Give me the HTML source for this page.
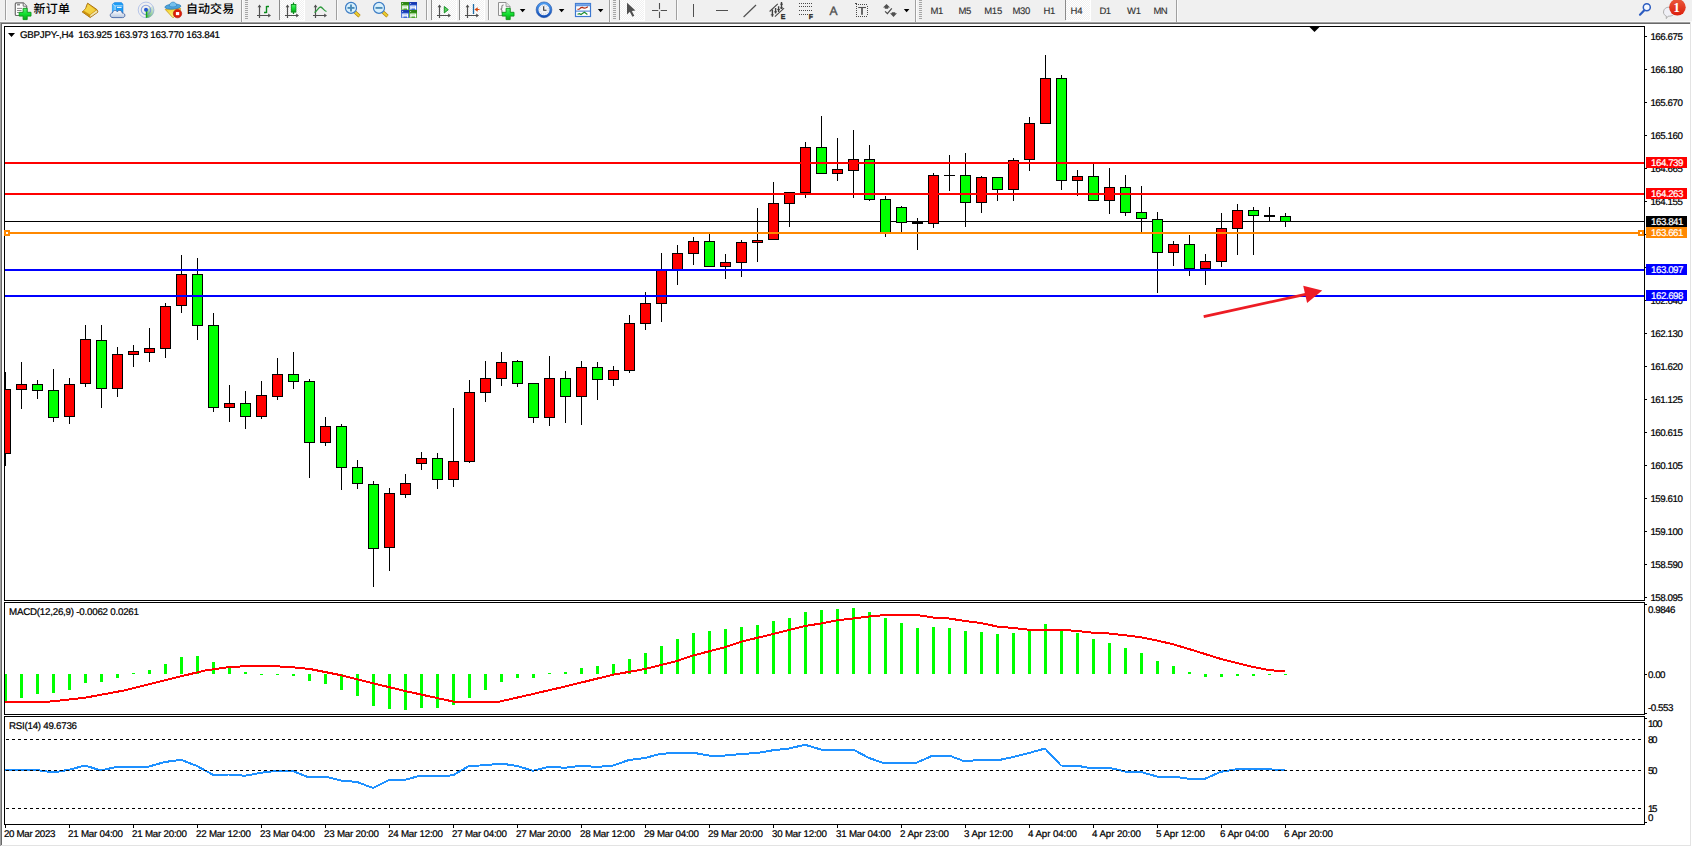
<!DOCTYPE html>
<html lang="zh-CN"><head><meta charset="utf-8"><title>GBPJPY-,H4</title>
<style>
html,body{margin:0;padding:0;background:#fff;overflow:hidden}
svg{display:block;font-family:"Liberation Sans", "Noto Sans CJK SC", sans-serif;text-rendering:geometricPrecision}
text{stroke-width:0.22px}
.cr{shape-rendering:crispEdges}
</style></head><body>
<svg width="1692" height="847" viewBox="0 0 1692 847">
<defs>
<linearGradient id="gGreen" x1="0" y1="0" x2="0" y2="1"><stop offset="0" stop-color="#58F070"/><stop offset="0.5" stop-color="#10E030"/><stop offset="1" stop-color="#0CA418"/></linearGradient>
<linearGradient id="gGold" x1="0" y1="0" x2="0.6" y2="1"><stop offset="0" stop-color="#F4D040"/><stop offset="0.6" stop-color="#E4B018"/><stop offset="1" stop-color="#C08408"/></linearGradient>
<linearGradient id="gBlue" x1="0" y1="0" x2="0" y2="1"><stop offset="0" stop-color="#4C9CF0"/><stop offset="1" stop-color="#1450B8"/></linearGradient>
<linearGradient id="gRed" x1="0" y1="0" x2="0" y2="1"><stop offset="0" stop-color="#EA5A3C"/><stop offset="1" stop-color="#DC1E0C"/></linearGradient>
<linearGradient id="gGlass" x1="0" y1="0" x2="0" y2="1"><stop offset="0" stop-color="#E8F4FF"/><stop offset="1" stop-color="#A8CCF0"/></linearGradient>
<linearGradient id="gCloud" x1="0" y1="0" x2="0" y2="1"><stop offset="0" stop-color="#ffffff"/><stop offset="1" stop-color="#b8c8e0"/></linearGradient>
<linearGradient id="gSweep" x1="0" y1="1" x2="0.6" y2="0"><stop offset="0" stop-color="#2cac2c" stop-opacity="0.95"/><stop offset="1" stop-color="#8cc8a0" stop-opacity="0.25"/></linearGradient>
<linearGradient id="gFace" x1="0" y1="0" x2="0.3" y2="1"><stop offset="0" stop-color="#f4d020"/><stop offset="1" stop-color="#fcf48c"/></linearGradient>
<pattern id="chk" width="2" height="2" patternUnits="userSpaceOnUse"><rect width="2" height="2" fill="#f0f0f0"/><rect width="1" height="1" fill="#fff"/><rect x="1" y="1" width="1" height="1" fill="#fff"/></pattern>
</defs>
<rect width="1692" height="847" fill="#fff"/>
<g id="toolbar">
<rect x="0" y="0" width="1692" height="21" fill="#f0f0f0" class="cr"/>
<rect x="0" y="21" width="1692" height="1" fill="#f8f8f8" class="cr"/>
</g>
<g class="cr">
<rect x="0" y="22" width="1690" height="1" fill="#a0a0a0"/>
<rect x="1" y="23" width="1689" height="1" fill="#696969"/>
<rect x="0" y="22" width="1" height="824" fill="#a0a0a0"/>
<rect x="1" y="23" width="1" height="822" fill="#696969"/>
<rect x="1690" y="22" width="1" height="824" fill="#e3e3e3"/>
<rect x="1" y="845" width="1690" height="1" fill="#e3e3e3"/>
</g>
<g class="cr" fill="none" stroke="#000" stroke-width="1">
<path d="M4.5 26.5H1644.5V600.5H4.5Z"/>
<path d="M4.5 602.5H1644.5V714.5H4.5Z"/>
<path d="M4.5 716.5H1644.5V824.5H4.5Z"/>
</g>
<rect x="5" y="221" width="1639" height="1" fill="#000" class="cr"/>
<g id="candles" class="cr">
<rect x="5" y="372" width="1" height="94" fill="#000"/>
<rect x="5" y="389" width="6" height="65" fill="#000"/>
<rect x="5" y="390" width="5" height="63" fill="#f00"/>
<rect x="21" y="362" width="1" height="47" fill="#000"/>
<rect x="16" y="384" width="11" height="6" fill="#000"/>
<rect x="17" y="385" width="9" height="4" fill="#f00"/>
<rect x="37" y="380" width="1" height="19" fill="#000"/>
<rect x="32" y="384" width="11" height="7" fill="#000"/>
<rect x="33" y="385" width="9" height="5" fill="#0f0"/>
<rect x="53" y="369" width="1" height="53" fill="#000"/>
<rect x="48" y="390" width="11" height="28" fill="#000"/>
<rect x="49" y="391" width="9" height="26" fill="#0f0"/>
<rect x="69" y="378" width="1" height="46" fill="#000"/>
<rect x="64" y="384" width="11" height="33" fill="#000"/>
<rect x="65" y="385" width="9" height="31" fill="#f00"/>
<rect x="85" y="325" width="1" height="62" fill="#000"/>
<rect x="80" y="339" width="11" height="45" fill="#000"/>
<rect x="81" y="340" width="9" height="43" fill="#f00"/>
<rect x="101" y="325" width="1" height="83" fill="#000"/>
<rect x="96" y="340" width="11" height="49" fill="#000"/>
<rect x="97" y="341" width="9" height="47" fill="#0f0"/>
<rect x="117" y="347" width="1" height="50" fill="#000"/>
<rect x="112" y="354" width="11" height="35" fill="#000"/>
<rect x="113" y="355" width="9" height="33" fill="#f00"/>
<rect x="133" y="345" width="1" height="22" fill="#000"/>
<rect x="128" y="351" width="11" height="4" fill="#000"/>
<rect x="129" y="352" width="9" height="2" fill="#f00"/>
<rect x="149" y="328" width="1" height="34" fill="#000"/>
<rect x="144" y="348" width="11" height="5" fill="#000"/>
<rect x="145" y="349" width="9" height="3" fill="#f00"/>
<rect x="165" y="303" width="1" height="55" fill="#000"/>
<rect x="160" y="306" width="11" height="43" fill="#000"/>
<rect x="161" y="307" width="9" height="41" fill="#f00"/>
<rect x="181" y="255" width="1" height="58" fill="#000"/>
<rect x="176" y="274" width="11" height="32" fill="#000"/>
<rect x="177" y="275" width="9" height="30" fill="#f00"/>
<rect x="197" y="258" width="1" height="82" fill="#000"/>
<rect x="192" y="274" width="11" height="52" fill="#000"/>
<rect x="193" y="275" width="9" height="50" fill="#0f0"/>
<rect x="213" y="313" width="1" height="99" fill="#000"/>
<rect x="208" y="325" width="11" height="83" fill="#000"/>
<rect x="209" y="326" width="9" height="81" fill="#0f0"/>
<rect x="229" y="385" width="1" height="37" fill="#000"/>
<rect x="224" y="403" width="11" height="5" fill="#000"/>
<rect x="225" y="404" width="9" height="3" fill="#f00"/>
<rect x="245" y="391" width="1" height="38" fill="#000"/>
<rect x="240" y="403" width="11" height="14" fill="#000"/>
<rect x="241" y="404" width="9" height="12" fill="#0f0"/>
<rect x="261" y="381" width="1" height="38" fill="#000"/>
<rect x="256" y="395" width="11" height="22" fill="#000"/>
<rect x="257" y="396" width="9" height="20" fill="#f00"/>
<rect x="277" y="358" width="1" height="42" fill="#000"/>
<rect x="272" y="374" width="11" height="23" fill="#000"/>
<rect x="273" y="375" width="9" height="21" fill="#f00"/>
<rect x="293" y="352" width="1" height="37" fill="#000"/>
<rect x="288" y="374" width="11" height="8" fill="#000"/>
<rect x="289" y="375" width="9" height="6" fill="#0f0"/>
<rect x="309" y="379" width="1" height="99" fill="#000"/>
<rect x="304" y="381" width="11" height="62" fill="#000"/>
<rect x="305" y="382" width="9" height="60" fill="#0f0"/>
<rect x="325" y="417" width="1" height="29" fill="#000"/>
<rect x="320" y="426" width="11" height="17" fill="#000"/>
<rect x="321" y="427" width="9" height="15" fill="#f00"/>
<rect x="341" y="424" width="1" height="66" fill="#000"/>
<rect x="336" y="426" width="11" height="42" fill="#000"/>
<rect x="337" y="427" width="9" height="40" fill="#0f0"/>
<rect x="357" y="460" width="1" height="29" fill="#000"/>
<rect x="352" y="467" width="11" height="17" fill="#000"/>
<rect x="353" y="468" width="9" height="15" fill="#0f0"/>
<rect x="373" y="481" width="1" height="106" fill="#000"/>
<rect x="368" y="484" width="11" height="65" fill="#000"/>
<rect x="369" y="485" width="9" height="63" fill="#0f0"/>
<rect x="389" y="488" width="1" height="83" fill="#000"/>
<rect x="384" y="493" width="11" height="55" fill="#000"/>
<rect x="385" y="494" width="9" height="53" fill="#f00"/>
<rect x="405" y="474" width="1" height="24" fill="#000"/>
<rect x="400" y="483" width="11" height="12" fill="#000"/>
<rect x="401" y="484" width="9" height="10" fill="#f00"/>
<rect x="421" y="452" width="1" height="18" fill="#000"/>
<rect x="416" y="458" width="11" height="6" fill="#000"/>
<rect x="417" y="459" width="9" height="4" fill="#f00"/>
<rect x="437" y="453" width="1" height="36" fill="#000"/>
<rect x="432" y="458" width="11" height="22" fill="#000"/>
<rect x="433" y="459" width="9" height="20" fill="#0f0"/>
<rect x="453" y="408" width="1" height="79" fill="#000"/>
<rect x="448" y="461" width="11" height="19" fill="#000"/>
<rect x="449" y="462" width="9" height="17" fill="#f00"/>
<rect x="469" y="380" width="1" height="83" fill="#000"/>
<rect x="464" y="392" width="11" height="70" fill="#000"/>
<rect x="465" y="393" width="9" height="68" fill="#f00"/>
<rect x="485" y="361" width="1" height="41" fill="#000"/>
<rect x="480" y="378" width="11" height="15" fill="#000"/>
<rect x="481" y="379" width="9" height="13" fill="#f00"/>
<rect x="501" y="352" width="1" height="34" fill="#000"/>
<rect x="496" y="362" width="11" height="17" fill="#000"/>
<rect x="497" y="363" width="9" height="15" fill="#f00"/>
<rect x="517" y="360" width="1" height="27" fill="#000"/>
<rect x="512" y="361" width="11" height="23" fill="#000"/>
<rect x="513" y="362" width="9" height="21" fill="#0f0"/>
<rect x="533" y="383" width="1" height="40" fill="#000"/>
<rect x="528" y="383" width="11" height="35" fill="#000"/>
<rect x="529" y="384" width="9" height="33" fill="#0f0"/>
<rect x="549" y="356" width="1" height="70" fill="#000"/>
<rect x="544" y="378" width="11" height="40" fill="#000"/>
<rect x="545" y="379" width="9" height="38" fill="#f00"/>
<rect x="565" y="371" width="1" height="52" fill="#000"/>
<rect x="560" y="378" width="11" height="19" fill="#000"/>
<rect x="561" y="379" width="9" height="17" fill="#0f0"/>
<rect x="581" y="361" width="1" height="64" fill="#000"/>
<rect x="576" y="367" width="11" height="30" fill="#000"/>
<rect x="577" y="368" width="9" height="28" fill="#f00"/>
<rect x="597" y="362" width="1" height="38" fill="#000"/>
<rect x="592" y="367" width="11" height="13" fill="#000"/>
<rect x="593" y="368" width="9" height="11" fill="#0f0"/>
<rect x="613" y="366" width="1" height="20" fill="#000"/>
<rect x="608" y="370" width="11" height="10" fill="#000"/>
<rect x="609" y="371" width="9" height="8" fill="#f00"/>
<rect x="629" y="315" width="1" height="58" fill="#000"/>
<rect x="624" y="323" width="11" height="48" fill="#000"/>
<rect x="625" y="324" width="9" height="46" fill="#f00"/>
<rect x="645" y="292" width="1" height="38" fill="#000"/>
<rect x="640" y="303" width="11" height="21" fill="#000"/>
<rect x="641" y="304" width="9" height="19" fill="#f00"/>
<rect x="661" y="253" width="1" height="69" fill="#000"/>
<rect x="656" y="270" width="11" height="34" fill="#000"/>
<rect x="657" y="271" width="9" height="32" fill="#f00"/>
<rect x="677" y="245" width="1" height="40" fill="#000"/>
<rect x="672" y="253" width="11" height="17" fill="#000"/>
<rect x="673" y="254" width="9" height="15" fill="#f00"/>
<rect x="693" y="237" width="1" height="28" fill="#000"/>
<rect x="688" y="241" width="11" height="13" fill="#000"/>
<rect x="689" y="242" width="9" height="11" fill="#f00"/>
<rect x="709" y="234" width="1" height="33" fill="#000"/>
<rect x="704" y="241" width="11" height="26" fill="#000"/>
<rect x="705" y="242" width="9" height="24" fill="#0f0"/>
<rect x="725" y="254" width="1" height="25" fill="#000"/>
<rect x="720" y="262" width="11" height="5" fill="#000"/>
<rect x="721" y="263" width="9" height="3" fill="#f00"/>
<rect x="741" y="240" width="1" height="37" fill="#000"/>
<rect x="736" y="242" width="11" height="21" fill="#000"/>
<rect x="737" y="243" width="9" height="19" fill="#f00"/>
<rect x="757" y="208" width="1" height="54" fill="#000"/>
<rect x="752" y="240" width="11" height="3" fill="#000"/>
<rect x="753" y="241" width="9" height="1" fill="#f00"/>
<rect x="773" y="182" width="1" height="58" fill="#000"/>
<rect x="768" y="203" width="11" height="37" fill="#000"/>
<rect x="769" y="204" width="9" height="35" fill="#f00"/>
<rect x="789" y="192" width="1" height="35" fill="#000"/>
<rect x="784" y="192" width="11" height="12" fill="#000"/>
<rect x="785" y="193" width="9" height="10" fill="#f00"/>
<rect x="805" y="142" width="1" height="56" fill="#000"/>
<rect x="800" y="147" width="11" height="46" fill="#000"/>
<rect x="801" y="148" width="9" height="44" fill="#f00"/>
<rect x="821" y="116" width="1" height="58" fill="#000"/>
<rect x="816" y="147" width="11" height="27" fill="#000"/>
<rect x="817" y="148" width="9" height="25" fill="#0f0"/>
<rect x="837" y="138" width="1" height="43" fill="#000"/>
<rect x="832" y="169" width="11" height="5" fill="#000"/>
<rect x="833" y="170" width="9" height="3" fill="#f00"/>
<rect x="853" y="130" width="1" height="68" fill="#000"/>
<rect x="848" y="159" width="11" height="12" fill="#000"/>
<rect x="849" y="160" width="9" height="10" fill="#f00"/>
<rect x="869" y="145" width="1" height="56" fill="#000"/>
<rect x="864" y="159" width="11" height="41" fill="#000"/>
<rect x="865" y="160" width="9" height="39" fill="#0f0"/>
<rect x="885" y="196" width="1" height="41" fill="#000"/>
<rect x="880" y="199" width="11" height="34" fill="#000"/>
<rect x="881" y="200" width="9" height="32" fill="#0f0"/>
<rect x="901" y="206" width="1" height="26" fill="#000"/>
<rect x="896" y="207" width="11" height="16" fill="#000"/>
<rect x="897" y="208" width="9" height="14" fill="#0f0"/>
<rect x="917" y="218" width="1" height="32" fill="#000"/>
<rect x="912" y="221" width="11" height="3" fill="#000"/>
<rect x="933" y="173" width="1" height="55" fill="#000"/>
<rect x="928" y="175" width="11" height="49" fill="#000"/>
<rect x="929" y="176" width="9" height="47" fill="#f00"/>
<rect x="949" y="155" width="1" height="36" fill="#000"/>
<rect x="944" y="175" width="11" height="1" fill="#000"/>
<rect x="965" y="153" width="1" height="74" fill="#000"/>
<rect x="960" y="175" width="11" height="28" fill="#000"/>
<rect x="961" y="176" width="9" height="26" fill="#0f0"/>
<rect x="981" y="176" width="1" height="37" fill="#000"/>
<rect x="976" y="177" width="11" height="26" fill="#000"/>
<rect x="977" y="178" width="9" height="24" fill="#f00"/>
<rect x="997" y="177" width="1" height="24" fill="#000"/>
<rect x="992" y="177" width="11" height="13" fill="#000"/>
<rect x="993" y="178" width="9" height="11" fill="#0f0"/>
<rect x="1013" y="158" width="1" height="43" fill="#000"/>
<rect x="1008" y="160" width="11" height="30" fill="#000"/>
<rect x="1009" y="161" width="9" height="28" fill="#f00"/>
<rect x="1029" y="117" width="1" height="54" fill="#000"/>
<rect x="1024" y="123" width="11" height="37" fill="#000"/>
<rect x="1025" y="124" width="9" height="35" fill="#f00"/>
<rect x="1045" y="55" width="1" height="69" fill="#000"/>
<rect x="1040" y="78" width="11" height="46" fill="#000"/>
<rect x="1041" y="79" width="9" height="44" fill="#f00"/>
<rect x="1061" y="75" width="1" height="115" fill="#000"/>
<rect x="1056" y="78" width="11" height="103" fill="#000"/>
<rect x="1057" y="79" width="9" height="101" fill="#0f0"/>
<rect x="1077" y="170" width="1" height="26" fill="#000"/>
<rect x="1072" y="176" width="11" height="5" fill="#000"/>
<rect x="1073" y="177" width="9" height="3" fill="#f00"/>
<rect x="1093" y="164" width="1" height="37" fill="#000"/>
<rect x="1088" y="176" width="11" height="25" fill="#000"/>
<rect x="1089" y="177" width="9" height="23" fill="#0f0"/>
<rect x="1109" y="168" width="1" height="46" fill="#000"/>
<rect x="1104" y="187" width="11" height="14" fill="#000"/>
<rect x="1105" y="188" width="9" height="12" fill="#f00"/>
<rect x="1125" y="175" width="1" height="41" fill="#000"/>
<rect x="1120" y="187" width="11" height="26" fill="#000"/>
<rect x="1121" y="188" width="9" height="24" fill="#0f0"/>
<rect x="1141" y="186" width="1" height="46" fill="#000"/>
<rect x="1136" y="212" width="11" height="7" fill="#000"/>
<rect x="1137" y="213" width="9" height="5" fill="#0f0"/>
<rect x="1157" y="212" width="1" height="81" fill="#000"/>
<rect x="1152" y="219" width="11" height="34" fill="#000"/>
<rect x="1153" y="220" width="9" height="32" fill="#0f0"/>
<rect x="1173" y="241" width="1" height="25" fill="#000"/>
<rect x="1168" y="244" width="11" height="9" fill="#000"/>
<rect x="1169" y="245" width="9" height="7" fill="#f00"/>
<rect x="1189" y="235" width="1" height="41" fill="#000"/>
<rect x="1184" y="244" width="11" height="25" fill="#000"/>
<rect x="1185" y="245" width="9" height="23" fill="#0f0"/>
<rect x="1205" y="254" width="1" height="31" fill="#000"/>
<rect x="1200" y="261" width="11" height="8" fill="#000"/>
<rect x="1201" y="262" width="9" height="6" fill="#f00"/>
<rect x="1221" y="213" width="1" height="54" fill="#000"/>
<rect x="1216" y="228" width="11" height="34" fill="#000"/>
<rect x="1217" y="229" width="9" height="32" fill="#f00"/>
<rect x="1237" y="204" width="1" height="51" fill="#000"/>
<rect x="1232" y="210" width="11" height="19" fill="#000"/>
<rect x="1233" y="211" width="9" height="17" fill="#f00"/>
<rect x="1253" y="207" width="1" height="48" fill="#000"/>
<rect x="1248" y="210" width="11" height="6" fill="#000"/>
<rect x="1249" y="211" width="9" height="4" fill="#0f0"/>
<rect x="1269" y="207" width="1" height="14" fill="#000"/>
<rect x="1264" y="215" width="11" height="2" fill="#000"/>
<rect x="1285" y="213" width="1" height="14" fill="#000"/>
<rect x="1280" y="216" width="11" height="6" fill="#000"/>
<rect x="1281" y="217" width="9" height="4" fill="#0f0"/>
</g>
<g id="hlines" class="cr">
<rect x="5" y="162" width="1639" height="2" fill="#f00"/>
<rect x="5" y="193" width="1639" height="2" fill="#f00"/>
<rect x="5" y="232" width="1639" height="2" fill="#ff8800"/>
<rect x="5" y="269" width="1639" height="2" fill="#00f"/>
<rect x="5" y="295" width="1639" height="2" fill="#00f"/>
<rect x="4" y="230" width="6" height="6" fill="#ff8800"/>
<rect x="6" y="232" width="2" height="2" fill="#fff"/>
<rect x="1638" y="230" width="6" height="6" fill="#ff8800"/>
<rect x="1640" y="232" width="2" height="2" fill="#fff"/>
</g>
<path d="M1309.5 27H1319.5L1314.5 32Z" fill="#000"/>
<g id="arrow">
<path d="M1203.7 316.6L1310 293.3" stroke="#ed1c24" stroke-width="2.8" fill="none"/>
<path d="M1303.2 285.8L1322.2 290.6L1307.1 303Z" fill="#ed1c24"/>
</g>
<g id="pscale">
<g class="cr">
<rect x="1645" y="36" width="2" height="1" fill="#000"/>
<rect x="1645" y="69" width="2" height="1" fill="#000"/>
<rect x="1645" y="102" width="2" height="1" fill="#000"/>
<rect x="1645" y="135" width="2" height="1" fill="#000"/>
<rect x="1645" y="168" width="2" height="1" fill="#000"/>
<rect x="1645" y="201" width="2" height="1" fill="#000"/>
<rect x="1645" y="234" width="2" height="1" fill="#000"/>
<rect x="1645" y="267" width="2" height="1" fill="#000"/>
<rect x="1645" y="300" width="2" height="1" fill="#000"/>
<rect x="1645" y="333" width="2" height="1" fill="#000"/>
<rect x="1645" y="366" width="2" height="1" fill="#000"/>
<rect x="1645" y="399" width="2" height="1" fill="#000"/>
<rect x="1645" y="432" width="2" height="1" fill="#000"/>
<rect x="1645" y="465" width="2" height="1" fill="#000"/>
<rect x="1645" y="498" width="2" height="1" fill="#000"/>
<rect x="1645" y="531" width="2" height="1" fill="#000"/>
<rect x="1645" y="564" width="2" height="1" fill="#000"/>
<rect x="1645" y="597" width="2" height="1" fill="#000"/>
</g>
<text x="1650.4" y="40" font-size="9.75" fill="#000" stroke="#000" textLength="32.5" lengthAdjust="spacing">166.675</text>
<text x="1650.4" y="73" font-size="9.75" fill="#000" stroke="#000" textLength="32.5" lengthAdjust="spacing">166.180</text>
<text x="1650.4" y="106" font-size="9.75" fill="#000" stroke="#000" textLength="32.5" lengthAdjust="spacing">165.670</text>
<text x="1650.4" y="139" font-size="9.75" fill="#000" stroke="#000" textLength="32.5" lengthAdjust="spacing">165.160</text>
<text x="1650.4" y="172" font-size="9.75" fill="#000" stroke="#000" textLength="32.5" lengthAdjust="spacing">164.665</text>
<text x="1650.4" y="205" font-size="9.75" fill="#000" stroke="#000" textLength="32.5" lengthAdjust="spacing">164.155</text>
<text x="1650.4" y="304" font-size="9.75" fill="#000" stroke="#000" textLength="32.5" lengthAdjust="spacing">162.640</text>
<text x="1650.4" y="337" font-size="9.75" fill="#000" stroke="#000" textLength="32.5" lengthAdjust="spacing">162.130</text>
<text x="1650.4" y="370" font-size="9.75" fill="#000" stroke="#000" textLength="32.5" lengthAdjust="spacing">161.620</text>
<text x="1650.4" y="403" font-size="9.75" fill="#000" stroke="#000" textLength="32.5" lengthAdjust="spacing">161.125</text>
<text x="1650.4" y="436" font-size="9.75" fill="#000" stroke="#000" textLength="32.5" lengthAdjust="spacing">160.615</text>
<text x="1650.4" y="469" font-size="9.75" fill="#000" stroke="#000" textLength="32.5" lengthAdjust="spacing">160.105</text>
<text x="1650.4" y="502" font-size="9.75" fill="#000" stroke="#000" textLength="32.5" lengthAdjust="spacing">159.610</text>
<text x="1650.4" y="535" font-size="9.75" fill="#000" stroke="#000" textLength="32.5" lengthAdjust="spacing">159.100</text>
<text x="1650.4" y="568" font-size="9.75" fill="#000" stroke="#000" textLength="32.5" lengthAdjust="spacing">158.590</text>
<text x="1650.4" y="601" font-size="9.75" fill="#000" stroke="#000" textLength="32.5" lengthAdjust="spacing">158.095</text>
</g>
<g id="plabels">
<rect x="1646" y="157" width="41" height="11" fill="#f00" class="cr"/>
<text x="1651" y="166" font-size="9.75" fill="#fff" stroke="#fff" textLength="32.5" lengthAdjust="spacing">164.739</text>
<rect x="1646" y="188" width="41" height="11" fill="#f00" class="cr"/>
<text x="1651" y="197" font-size="9.75" fill="#fff" stroke="#fff" textLength="32.5" lengthAdjust="spacing">164.263</text>
<rect x="1646" y="216" width="41" height="11" fill="#000" class="cr"/>
<text x="1651" y="225" font-size="9.75" fill="#fff" stroke="#fff" textLength="32.5" lengthAdjust="spacing">163.841</text>
<rect x="1646" y="227" width="41" height="11" fill="#ff8800" class="cr"/>
<text x="1651" y="236" font-size="9.75" fill="#fff" stroke="#fff" textLength="32.5" lengthAdjust="spacing">163.661</text>
<rect x="1646" y="264" width="41" height="11" fill="#00f" class="cr"/>
<text x="1651" y="273" font-size="9.75" fill="#fff" stroke="#fff" textLength="32.5" lengthAdjust="spacing">163.097</text>
<rect x="1646" y="290" width="41" height="11" fill="#00f" class="cr"/>
<text x="1651" y="299" font-size="9.75" fill="#fff" stroke="#fff" textLength="32.5" lengthAdjust="spacing">162.698</text>
</g>
<path d="M8 33H15L11.5 37Z" fill="#000"/>
<text x="20" y="38" font-size="9.75" fill="#000" stroke="#000" textLength="200" lengthAdjust="spacing" style="white-space:pre">GBPJPY-,H4  163.925 163.973 163.770 163.841</text>
<g id="macd" class="cr">
<rect x="5" y="674" width="2" height="28" fill="#0f0"/>
<rect x="20" y="674" width="3" height="24" fill="#0f0"/>
<rect x="36" y="674" width="3" height="20" fill="#0f0"/>
<rect x="52" y="674" width="3" height="19" fill="#0f0"/>
<rect x="68" y="674" width="3" height="16" fill="#0f0"/>
<rect x="84" y="674" width="3" height="9" fill="#0f0"/>
<rect x="100" y="674" width="3" height="8" fill="#0f0"/>
<rect x="116" y="674" width="3" height="4" fill="#0f0"/>
<rect x="132" y="673" width="3" height="1" fill="#0f0"/>
<rect x="148" y="670" width="3" height="4" fill="#0f0"/>
<rect x="164" y="664" width="3" height="10" fill="#0f0"/>
<rect x="180" y="657" width="3" height="17" fill="#0f0"/>
<rect x="196" y="656" width="3" height="18" fill="#0f0"/>
<rect x="212" y="662" width="3" height="12" fill="#0f0"/>
<rect x="228" y="667" width="3" height="7" fill="#0f0"/>
<rect x="244" y="672" width="3" height="2" fill="#0f0"/>
<rect x="260" y="674" width="3" height="1" fill="#0f0"/>
<rect x="276" y="674" width="3" height="1" fill="#0f0"/>
<rect x="292" y="674" width="3" height="2" fill="#0f0"/>
<rect x="308" y="674" width="3" height="7" fill="#0f0"/>
<rect x="324" y="674" width="3" height="10" fill="#0f0"/>
<rect x="340" y="674" width="3" height="16" fill="#0f0"/>
<rect x="356" y="674" width="3" height="22" fill="#0f0"/>
<rect x="372" y="674" width="3" height="32" fill="#0f0"/>
<rect x="388" y="674" width="3" height="35" fill="#0f0"/>
<rect x="404" y="674" width="3" height="36" fill="#0f0"/>
<rect x="420" y="674" width="3" height="34" fill="#0f0"/>
<rect x="436" y="674" width="3" height="34" fill="#0f0"/>
<rect x="452" y="674" width="3" height="31" fill="#0f0"/>
<rect x="468" y="674" width="3" height="24" fill="#0f0"/>
<rect x="484" y="674" width="3" height="16" fill="#0f0"/>
<rect x="500" y="674" width="3" height="8" fill="#0f0"/>
<rect x="516" y="674" width="3" height="4" fill="#0f0"/>
<rect x="532" y="674" width="3" height="4" fill="#0f0"/>
<rect x="548" y="673" width="3" height="1" fill="#0f0"/>
<rect x="564" y="672" width="3" height="2" fill="#0f0"/>
<rect x="580" y="668" width="3" height="6" fill="#0f0"/>
<rect x="596" y="666" width="3" height="8" fill="#0f0"/>
<rect x="612" y="664" width="3" height="10" fill="#0f0"/>
<rect x="628" y="659" width="3" height="15" fill="#0f0"/>
<rect x="644" y="653" width="3" height="21" fill="#0f0"/>
<rect x="660" y="646" width="3" height="28" fill="#0f0"/>
<rect x="676" y="639" width="3" height="35" fill="#0f0"/>
<rect x="692" y="633" width="3" height="41" fill="#0f0"/>
<rect x="708" y="631" width="3" height="43" fill="#0f0"/>
<rect x="724" y="629" width="3" height="45" fill="#0f0"/>
<rect x="740" y="627" width="3" height="47" fill="#0f0"/>
<rect x="756" y="625" width="3" height="49" fill="#0f0"/>
<rect x="772" y="621" width="3" height="53" fill="#0f0"/>
<rect x="788" y="618" width="3" height="56" fill="#0f0"/>
<rect x="804" y="612" width="3" height="62" fill="#0f0"/>
<rect x="820" y="610" width="3" height="64" fill="#0f0"/>
<rect x="836" y="609" width="3" height="65" fill="#0f0"/>
<rect x="852" y="608" width="3" height="66" fill="#0f0"/>
<rect x="868" y="612" width="3" height="62" fill="#0f0"/>
<rect x="884" y="618" width="3" height="56" fill="#0f0"/>
<rect x="900" y="623" width="3" height="51" fill="#0f0"/>
<rect x="916" y="628" width="3" height="46" fill="#0f0"/>
<rect x="932" y="627" width="3" height="47" fill="#0f0"/>
<rect x="948" y="628" width="3" height="46" fill="#0f0"/>
<rect x="964" y="631" width="3" height="43" fill="#0f0"/>
<rect x="980" y="632" width="3" height="42" fill="#0f0"/>
<rect x="996" y="634" width="3" height="40" fill="#0f0"/>
<rect x="1012" y="633" width="3" height="41" fill="#0f0"/>
<rect x="1028" y="630" width="3" height="44" fill="#0f0"/>
<rect x="1044" y="624" width="3" height="50" fill="#0f0"/>
<rect x="1060" y="629" width="3" height="45" fill="#0f0"/>
<rect x="1076" y="633" width="3" height="41" fill="#0f0"/>
<rect x="1092" y="639" width="3" height="35" fill="#0f0"/>
<rect x="1108" y="643" width="3" height="31" fill="#0f0"/>
<rect x="1124" y="648" width="3" height="26" fill="#0f0"/>
<rect x="1140" y="653" width="3" height="21" fill="#0f0"/>
<rect x="1156" y="661" width="3" height="13" fill="#0f0"/>
<rect x="1172" y="666" width="3" height="8" fill="#0f0"/>
<rect x="1188" y="672" width="3" height="2" fill="#0f0"/>
<rect x="1204" y="674" width="3" height="3" fill="#0f0"/>
<rect x="1220" y="674" width="3" height="3" fill="#0f0"/>
<rect x="1236" y="674" width="3" height="2" fill="#0f0"/>
<rect x="1252" y="674" width="3" height="2" fill="#0f0"/>
<rect x="1268" y="674" width="3" height="1" fill="#0f0"/>
<rect x="1284" y="674" width="3" height="1" fill="#0f0"/>
<polyline points="5,702 45,702 65,700 85,697.7 125,690.3 165,680.2 205,670.5 230,667 260,665.5 290,667 310,669 340,675 372,683 405,691 421,694.5 437,698 453,701.5 500,701.5 533,694 565,686.5 613,674.75 645,669 677,661 693,655.5 725,647.25 741,641.75 773,634 805,626 821,623.5 837,620.25 853,618.5 869,616.5 885,615 917,615 933,617.5 949,618.5 965,621 981,623 997,626.5 1013,628 1029,629.75 1061,629.75 1077,631 1093,632.75 1109,633.5 1125,635.25 1141,637.25 1157,640.5 1173,644.25 1189,649 1205,654 1221,659 1237,663 1253,667 1269,670 1285,671.5" fill="none" stroke="#f00" stroke-width="2" stroke-linejoin="round"/>
</g>
<text x="9" y="615" font-size="9.75" fill="#000" stroke="#000" textLength="130" lengthAdjust="spacing">MACD(12,26,9) -0.0062 0.0261</text>
<g class="cr"><rect x="1645" y="604" width="2" height="1" fill="#000"/><rect x="1645" y="674" width="2" height="1" fill="#000"/><rect x="1645" y="713" width="2" height="1" fill="#000"/></g>
<text x="1648" y="613" font-size="9.75" fill="#000" stroke="#000" textLength="27.5" lengthAdjust="spacing">0.9846</text>
<text x="1648" y="678" font-size="9.75" fill="#000" stroke="#000" textLength="17.5" lengthAdjust="spacing">0.00</text>
<text x="1648" y="711" font-size="9.75" fill="#000" stroke="#000" textLength="25.5" lengthAdjust="spacing">-0.553</text>
<g id="rsi" class="cr">
<polyline points="5,770 37,770 53,772.5 69,769.75 85,765.5 101,770.5 117,766.75 149,766.5 165,762 181,759.75 197,766 213,774.75 229,774.5 245,775.75 261,772.75 277,770.75 293,771 309,777.5 325,776.5 341,780.5 357,782 373,788 389,780 405,779.75 421,775.5 437,776.5 453,775.25 469,766 485,765.25 501,763.5 517,766 533,770.75 549,766.75 565,767.75 581,765.75 597,767 613,765.5 629,760 645,758 661,753.75 677,753 693,752.75 709,755.5 725,755.5 741,754 757,753 773,750.25 789,748.5 805,744.75 821,749.5 837,749.5 853,749.5 869,758 885,763.5 901,763.25 917,762.5 933,755.5 949,755.5 965,761.5 981,759.5 997,760.5 1013,757 1029,753 1045,748.5 1061,765.5 1077,765.75 1093,768.5 1109,767.75 1125,771.5 1141,772 1157,776.5 1173,776.5 1189,778.75 1205,778.75 1221,771.75 1237,769.25 1253,769.25 1269,769.25 1285,770.5" fill="none" stroke="#1e90ff" stroke-width="2" stroke-linejoin="round"/>
<path d="M6 739.5H1644" stroke="#000" stroke-width="1" stroke-dasharray="3 3" fill="none"/>
<path d="M6 770.5H1644" stroke="#000" stroke-width="1" stroke-dasharray="3 3" fill="none"/>
<path d="M6 808.5H1644" stroke="#000" stroke-width="1" stroke-dasharray="3 3" fill="none"/>
<rect x="1645" y="718" width="2" height="1" fill="#000"/><rect x="1645" y="822" width="2" height="1" fill="#000"/>
</g>
<text x="9" y="729" font-size="9.75" fill="#000" stroke="#000" textLength="68" lengthAdjust="spacing">RSI(14) 49.6736</text>
<text x="1648" y="727" font-size="9.75" fill="#000" stroke="#000" textLength="14.5" lengthAdjust="spacing">100</text>
<text x="1648" y="743" font-size="9.75" fill="#000" stroke="#000" textLength="9.5" lengthAdjust="spacing">80</text>
<text x="1648" y="774" font-size="9.75" fill="#000" stroke="#000" textLength="9.5" lengthAdjust="spacing">50</text>
<text x="1648" y="812" font-size="9.75" fill="#000" stroke="#000" textLength="9.5" lengthAdjust="spacing">15</text>
<text x="1648" y="821" font-size="9.75" fill="#000" stroke="#000" textLength="4.5" lengthAdjust="spacing">0</text>
<g id="taxis">
<g class="cr">
<rect x="5" y="825" width="1" height="3" fill="#000"/>
<rect x="69" y="825" width="1" height="3" fill="#000"/>
<rect x="133" y="825" width="1" height="3" fill="#000"/>
<rect x="197" y="825" width="1" height="3" fill="#000"/>
<rect x="261" y="825" width="1" height="3" fill="#000"/>
<rect x="325" y="825" width="1" height="3" fill="#000"/>
<rect x="389" y="825" width="1" height="3" fill="#000"/>
<rect x="453" y="825" width="1" height="3" fill="#000"/>
<rect x="517" y="825" width="1" height="3" fill="#000"/>
<rect x="581" y="825" width="1" height="3" fill="#000"/>
<rect x="645" y="825" width="1" height="3" fill="#000"/>
<rect x="709" y="825" width="1" height="3" fill="#000"/>
<rect x="773" y="825" width="1" height="3" fill="#000"/>
<rect x="837" y="825" width="1" height="3" fill="#000"/>
<rect x="901" y="825" width="1" height="3" fill="#000"/>
<rect x="965" y="825" width="1" height="3" fill="#000"/>
<rect x="1029" y="825" width="1" height="3" fill="#000"/>
<rect x="1093" y="825" width="1" height="3" fill="#000"/>
<rect x="1157" y="825" width="1" height="3" fill="#000"/>
<rect x="1221" y="825" width="1" height="3" fill="#000"/>
<rect x="1285" y="825" width="1" height="3" fill="#000"/>
</g>
<text x="4" y="837" font-size="9.75" fill="#000" stroke="#000" textLength="51.5" lengthAdjust="spacing">20 Mar 2023</text>
<text x="68" y="837" font-size="9.75" fill="#000" stroke="#000" textLength="55" lengthAdjust="spacing">21 Mar 04:00</text>
<text x="132" y="837" font-size="9.75" fill="#000" stroke="#000" textLength="55" lengthAdjust="spacing">21 Mar 20:00</text>
<text x="196" y="837" font-size="9.75" fill="#000" stroke="#000" textLength="55" lengthAdjust="spacing">22 Mar 12:00</text>
<text x="260" y="837" font-size="9.75" fill="#000" stroke="#000" textLength="55" lengthAdjust="spacing">23 Mar 04:00</text>
<text x="324" y="837" font-size="9.75" fill="#000" stroke="#000" textLength="55" lengthAdjust="spacing">23 Mar 20:00</text>
<text x="388" y="837" font-size="9.75" fill="#000" stroke="#000" textLength="55" lengthAdjust="spacing">24 Mar 12:00</text>
<text x="452" y="837" font-size="9.75" fill="#000" stroke="#000" textLength="55" lengthAdjust="spacing">27 Mar 04:00</text>
<text x="516" y="837" font-size="9.75" fill="#000" stroke="#000" textLength="55" lengthAdjust="spacing">27 Mar 20:00</text>
<text x="580" y="837" font-size="9.75" fill="#000" stroke="#000" textLength="55" lengthAdjust="spacing">28 Mar 12:00</text>
<text x="644" y="837" font-size="9.75" fill="#000" stroke="#000" textLength="55" lengthAdjust="spacing">29 Mar 04:00</text>
<text x="708" y="837" font-size="9.75" fill="#000" stroke="#000" textLength="55" lengthAdjust="spacing">29 Mar 20:00</text>
<text x="772" y="837" font-size="9.75" fill="#000" stroke="#000" textLength="55" lengthAdjust="spacing">30 Mar 12:00</text>
<text x="836" y="837" font-size="9.75" fill="#000" stroke="#000" textLength="55" lengthAdjust="spacing">31 Mar 04:00</text>
<text x="900" y="837" font-size="9.75" fill="#000" stroke="#000" textLength="49" lengthAdjust="spacing">2 Apr 23:00</text>
<text x="964" y="837" font-size="9.75" fill="#000" stroke="#000" textLength="49" lengthAdjust="spacing">3 Apr 12:00</text>
<text x="1028" y="837" font-size="9.75" fill="#000" stroke="#000" textLength="49" lengthAdjust="spacing">4 Apr 04:00</text>
<text x="1092" y="837" font-size="9.75" fill="#000" stroke="#000" textLength="49" lengthAdjust="spacing">4 Apr 20:00</text>
<text x="1156" y="837" font-size="9.75" fill="#000" stroke="#000" textLength="49" lengthAdjust="spacing">5 Apr 12:00</text>
<text x="1220" y="837" font-size="9.75" fill="#000" stroke="#000" textLength="49" lengthAdjust="spacing">6 Apr 04:00</text>
<text x="1284" y="837" font-size="9.75" fill="#000" stroke="#000" textLength="49" lengthAdjust="spacing">6 Apr 20:00</text>
</g>
<g id="tbicons">
<rect x="5" y="0" width="1" height="20" fill="#a0a0a0" class="cr"/>
<rect x="6" y="0" width="1" height="20" fill="#fbfbfb" class="cr"/>
<path d="M16.3 2.9h7l3.4 3.4v8.2a1 1 0 0 1-1 1h-9.4a1 1 0 0 1-1-1v-10.6a1 1 0 0 1 1-1z" fill="#fdfdfd" stroke="#6e6e6e" stroke-width="1.2"/>
<path d="M23.2 3v3.2h3.4" fill="#fff" stroke="#6e6e6e" stroke-width="1"/>
<path d="M17 4.7h3" stroke="#8c8c8c" stroke-width="1.6"/>
<path d="M17 8.4h5.2M17 10.5h4.6M17 12.5h2" stroke="#8c8c8c" stroke-width="1"/>
<path d="M23.1 8.3h4.1v4h3.8v3.8h-3.8v3.5h-4.1v-3.5h-3.9v-3.8h3.9z" fill="url(#gGreen)" stroke="#0c9418" stroke-width="0.9"/>
<text x="33.5" y="13" font-size="12" fill="#000" textLength="36.5" lengthAdjust="spacing" font-weight="500" style="stroke-width:0">新订单</text>
<path d="M87.7 3.2L96.9 9.6L98 12L90.2 17.5L82.2 11.9C84 10.5 85.5 9 85.9 7.8C86.3 6 86.8 4.5 87.7 3.2Z" fill="url(#gGold)" stroke="#a06808" stroke-width="0.9" stroke-linejoin="round"/>
<path d="M96.6 10.2l1 1.9-7.4 5-0.3-1.9z" fill="#f0e4b0"/>
<path d="M82.6 12l7.5 5.2 0.2-1.9-7-4.6z" fill="#c89010"/>
<path d="M88 4.6l7.6 5.3-5.6 4.6-6-4c1.8-1.4 3-3 4-5.9z" fill="#f8dc50" opacity="0.75"/>
<path d="M112.4 4.2l2.2-1.6h6.8l1.6 1.6v8.4h-10.6z" fill="#1c9cf4" stroke="#1880e0" stroke-width="0.6"/>
<path d="M112.6 4.4l2.4 1.4v7h-2.4z" fill="#48b8ff"/>
<path d="M112.8 4.2l2.4 1.6h7.4M115.2 5.8v6" stroke="#e8f6ff" stroke-width="0.7" fill="none"/>
<path d="M117 7.4h4.6" stroke="#f4faff" stroke-width="1.1"/>
<path d="M113 17.6c-3.6 0-3.6-4.4-0.5-4.7c0.2-2.6 3.6-3.2 4.8-1.2c1.3-2.2 5-1.3 4.8 1.3c3.6-0.2 3.8 4.6 0.4 4.6z" fill="url(#gCloud)" stroke="#4464a4" stroke-width="0.9"/>
<path d="M146.5 10v7.9a7.9 7.9 0 0 0 6.6-12.2z" fill="url(#gSweep)"/>
<circle cx="146" cy="9.9" r="7.8" fill="none" stroke="#90a8e4" stroke-width="1" opacity="0.6"/>
<circle cx="146" cy="9.9" r="4.7" fill="none" stroke="#6c8cd8" stroke-width="1.1" opacity="0.75"/>
<path d="M146.5 10v7.8" stroke="#18a818" stroke-width="1.4"/>
<circle cx="146" cy="9.7" r="2" fill="#2458d0"/>
<path d="M165.2 9.4l15.4-1 -0.6 2.6-7 6.8z" fill="url(#gFace)" stroke="#c89818" stroke-width="0.8" stroke-linejoin="round"/>
<ellipse cx="172.9" cy="6.6" rx="8" ry="2.5" fill="#4ca4dc" stroke="#2878b4" stroke-width="0.7" transform="rotate(-4 172.9 6.6)"/>
<path d="M169.3 6.2c0.2-5.4 7.2-5.6 7.4-0.2c-2 1.2-5.4 1.2-7.4 0.2z" fill="#74c0ec" stroke="#2c80bc" stroke-width="0.6"/>
<circle cx="177.5" cy="13.65" r="4.2" fill="#dc1c08"/>
<circle cx="177.5" cy="13.65" r="4.2" fill="none" stroke="#b01404" stroke-width="0.6"/>
<rect x="175.9" y="12.05" width="3.3" height="3.1" fill="#fff"/>
<text x="185.9" y="13" font-size="12" fill="#000" textLength="48.3" lengthAdjust="spacing" font-weight="500" style="stroke-width:0">自动交易</text>
<rect x="241" y="0" width="1" height="22" fill="#a0a0a0" class="cr"/>
<rect x="242" y="0" width="1" height="22" fill="#fbfbfb" class="cr"/>
<rect x="245" y="0" width="3" height="1" fill="#a6a6a6" class="cr"/>
<rect x="245" y="2" width="3" height="1" fill="#a6a6a6" class="cr"/>
<rect x="245" y="4" width="3" height="1" fill="#a6a6a6" class="cr"/>
<rect x="245" y="6" width="3" height="1" fill="#a6a6a6" class="cr"/>
<rect x="245" y="8" width="3" height="1" fill="#a6a6a6" class="cr"/>
<rect x="245" y="10" width="3" height="1" fill="#a6a6a6" class="cr"/>
<rect x="245" y="12" width="3" height="1" fill="#a6a6a6" class="cr"/>
<rect x="245" y="14" width="3" height="1" fill="#a6a6a6" class="cr"/>
<rect x="245" y="16" width="3" height="1" fill="#a6a6a6" class="cr"/>
<rect x="245" y="18" width="3" height="1" fill="#a6a6a6" class="cr"/>
<path d="M259.5 6V18M257 15.5H269" stroke="#505050" stroke-width="1.2" fill="none"/>
<path d="M259.5 4.4l-1.9 2.8h3.8zM271 15.5l-2.8-1.9v3.8z" fill="#505050"/>
<path d="M266.5 6v7M266.5 6.5h2.5M264 12.5h2.5" stroke="#0a8a1c" stroke-width="1.4" fill="none"/>
<rect x="280" y="0" width="24" height="20" fill="url(#chk)" class="cr"/>
<rect x="279" y="0" width="1" height="20" fill="#8a8a8a" class="cr"/>
<rect x="280" y="20" width="25" height="1" fill="#fff" class="cr"/>
<rect x="304" y="0" width="1" height="21" fill="#fff" class="cr"/>
<path d="M287.5 6V18M285 15.5H297" stroke="#505050" stroke-width="1.2" fill="none"/>
<path d="M287.5 4.4l-1.9 2.8h3.8zM299 15.5l-2.8-1.9v3.8z" fill="#505050"/>
<path d="M293.5 2.5v11.5" stroke="#0a8a1c" stroke-width="1.2"/>
<rect x="291.3" y="4.5" width="4.6" height="7.6" fill="url(#gGreen)" stroke="#0a8a1c" stroke-width="0.9"/>
<path d="M315.5 6V18M313 15.5H325" stroke="#505050" stroke-width="1.2" fill="none"/>
<path d="M315.5 4.4l-1.9 2.8h3.8zM327 15.5l-2.8-1.9v3.8z" fill="#505050"/>
<path d="M314.5 12.5c3-2 4-5.5 6-5.5s3 3.5 6 4.5" stroke="#2c9a3c" stroke-width="1.3" fill="none"/>
<rect x="336" y="0" width="1" height="20" fill="#a0a0a0" class="cr"/>
<rect x="337" y="0" width="1" height="20" fill="#fbfbfb" class="cr"/>
<path d="M354.9 12.100000000000001l4.6 4.2" stroke="#b08010" stroke-width="3.4" stroke-linecap="butt"/>
<path d="M354.9 12.100000000000001l4.4 4" stroke="#ecd030" stroke-width="2" stroke-linecap="butt"/>
<circle cx="351" cy="7.9" r="5.5" fill="#d8f0fc" stroke="#3c7cc4" stroke-width="1.2"/>
<path d="M347.5 7.9h7" stroke="#4c8cb8" stroke-width="1.9"/>
<path d="M351 4.4v7" stroke="#4c8cb8" stroke-width="1.9"/>
<path d="M382.9 12.100000000000001l4.6 4.2" stroke="#b08010" stroke-width="3.4" stroke-linecap="butt"/>
<path d="M382.9 12.100000000000001l4.4 4" stroke="#ecd030" stroke-width="2" stroke-linecap="butt"/>
<circle cx="379" cy="7.9" r="5.5" fill="#d8f0fc" stroke="#3c7cc4" stroke-width="1.2"/>
<path d="M375.5 7.9h7" stroke="#4c8cb8" stroke-width="1.9"/>
<rect x="401.2" y="2.1" width="7.8" height="7.8" fill="#3c9c1c"/>
<rect x="401.2" y="2.1" width="7.8" height="2.4" fill="#2c8410"/>
<rect x="402.09999999999997" y="3.1" width="1" height="0.9" fill="#fff" opacity="0.8"/>
<path d="M402.2 5.5h6v3.9h-1.2v-1h-3.6v1h-1.2z" fill="#fff"/>
<rect x="403.2" y="6.4" width="4" height="0.9" fill="#a4d88c"/>
<rect x="409.2" y="2.1" width="7.8" height="7.8" fill="#2c5cd4"/>
<rect x="409.2" y="2.1" width="7.8" height="2.4" fill="#1838b0"/>
<rect x="410.09999999999997" y="3.1" width="1" height="0.9" fill="#fff" opacity="0.8"/>
<path d="M410.2 5.5h6v3.9h-1.2v-1h-3.6v1h-1.2z" fill="#fff"/>
<rect x="411.2" y="6.4" width="4" height="0.9" fill="#9cb4f0"/>
<rect x="401.2" y="10.1" width="7.8" height="7.8" fill="#2c5cd4"/>
<rect x="401.2" y="10.1" width="7.8" height="2.4" fill="#1838b0"/>
<rect x="402.09999999999997" y="11.1" width="1" height="0.9" fill="#fff" opacity="0.8"/>
<path d="M402.2 13.5h6v3.9h-1.2v-1h-3.6v1h-1.2z" fill="#fff"/>
<rect x="403.2" y="14.399999999999999" width="4" height="0.9" fill="#9cb4f0"/>
<rect x="409.2" y="10.1" width="7.8" height="7.8" fill="#3c9c1c"/>
<rect x="409.2" y="10.1" width="7.8" height="2.4" fill="#2c8410"/>
<rect x="410.09999999999997" y="11.1" width="1" height="0.9" fill="#fff" opacity="0.8"/>
<path d="M410.2 13.5h6v3.9h-1.2v-1h-3.6v1h-1.2z" fill="#fff"/>
<rect x="411.2" y="14.399999999999999" width="4" height="0.9" fill="#a4d88c"/>
<rect x="426" y="0" width="1" height="20" fill="#a0a0a0" class="cr"/>
<rect x="427" y="0" width="1" height="20" fill="#fbfbfb" class="cr"/>
<rect x="432" y="0" width="24" height="20" fill="url(#chk)" class="cr"/>
<rect x="431" y="0" width="1" height="20" fill="#8a8a8a" class="cr"/>
<rect x="432" y="20" width="25" height="1" fill="#fff" class="cr"/>
<rect x="456" y="0" width="1" height="21" fill="#fff" class="cr"/>
<path d="M439.5 6V18M437 15.5H449" stroke="#505050" stroke-width="1.2" fill="none"/>
<path d="M439.5 4.4l-1.9 2.8h3.8zM451 15.5l-2.8-1.9v3.8z" fill="#505050"/>
<path d="M444.3 6.5l4 3.2-4 3.2z" fill="#5cd05c" stroke="#0a8a1c" stroke-width="0.9"/>
<rect x="460" y="0" width="24" height="20" fill="url(#chk)" class="cr"/>
<rect x="459" y="0" width="1" height="20" fill="#8a8a8a" class="cr"/>
<rect x="460" y="20" width="25" height="1" fill="#fff" class="cr"/>
<rect x="484" y="0" width="1" height="21" fill="#fff" class="cr"/>
<path d="M467.5 6V18M465 15.5H477" stroke="#505050" stroke-width="1.2" fill="none"/>
<path d="M467.5 4.4l-1.9 2.8h3.8zM479 15.5l-2.8-1.9v3.8z" fill="#505050"/>
<path d="M473.5 4v10" stroke="#1c6ca8" stroke-width="1.3"/>
<path d="M474.5 9.5l3.2-2.2v1.6h1.8v1.2h-1.8v1.6z" fill="#d84810"/>
<rect x="488" y="0" width="1" height="20" fill="#a0a0a0" class="cr"/>
<rect x="489" y="0" width="1" height="20" fill="#fbfbfb" class="cr"/>
<path d="M498.5 2.5h7.5l4 4v9h-11.5z" fill="#f8f8f8" stroke="#909090" stroke-width="1"/>
<path d="M506 2.5v4h4" fill="#e0e0e0" stroke="#909090" stroke-width="0.8"/>
<path d="M503.5 5c-1.6 0-1.6 1-1.6 2.5s-0.8 1.6-1.2 1.6c0.4 0 1.2 0.2 1.2 1.6s0 2.5 1.6 2.5" stroke="#505050" stroke-width="0.9" fill="none"/>
<path d="M506.1 8.3h4.1v4h3.8v3.8h-3.8v3.5h-4.1v-3.5h-3.9v-3.8h3.9z" fill="url(#gGreen)" stroke="#0c9418" stroke-width="0.9"/>
<path d="M519.8 9h5.6l-2.8 3.2z" fill="#000"/>
<circle cx="544" cy="9.8" r="6.7" fill="#f0f2f6" stroke="url(#gBlue)" stroke-width="2.3"/>
<circle cx="544" cy="9.8" r="7.9" fill="none" stroke="#0c3c98" stroke-width="0.5"/>
<circle cx="544" cy="9.8" r="4.3" fill="none" stroke="#a0a8b8" stroke-width="0.8" stroke-dasharray="0.7 1.55"/>
<path d="M543.7 6.2v4h2.8" stroke="#303030" stroke-width="1.1" fill="none"/>
<path d="M558.8 9h5.6l-2.8 3.2z" fill="#000"/>
<rect x="575.5" y="3.5" width="15" height="13" fill="#fff" stroke="#3c78d0" stroke-width="1.2"/>
<rect x="575.5" y="3.5" width="15" height="2.4" fill="#78a8e8" stroke="#3c78d0" stroke-width="0.6"/>
<rect x="576" y="10.6" width="14" height="1" fill="#3c78d0"/>
<path d="M577.5 9.3l2-0.3 1.5-1.4 1.6-0.2 1.5 0.8 1.6-0.2 2.2-1.2" stroke="#b02810" stroke-width="1.2" fill="none"/>
<path d="M577.5 14.3l2-0.6 1.5 0.8 1.8-1.2 1.6-1 1.4 1 1.6 1.2" stroke="#1c8c2c" stroke-width="1.2" fill="none"/>
<path d="M597.8 9h5.6l-2.8 3.2z" fill="#000"/>
<rect x="609" y="0" width="1" height="22" fill="#a0a0a0" class="cr"/>
<rect x="610" y="0" width="1" height="22" fill="#fbfbfb" class="cr"/>
<rect x="613" y="0" width="3" height="1" fill="#a6a6a6" class="cr"/>
<rect x="613" y="2" width="3" height="1" fill="#a6a6a6" class="cr"/>
<rect x="613" y="4" width="3" height="1" fill="#a6a6a6" class="cr"/>
<rect x="613" y="6" width="3" height="1" fill="#a6a6a6" class="cr"/>
<rect x="613" y="8" width="3" height="1" fill="#a6a6a6" class="cr"/>
<rect x="613" y="10" width="3" height="1" fill="#a6a6a6" class="cr"/>
<rect x="613" y="12" width="3" height="1" fill="#a6a6a6" class="cr"/>
<rect x="613" y="14" width="3" height="1" fill="#a6a6a6" class="cr"/>
<rect x="613" y="16" width="3" height="1" fill="#a6a6a6" class="cr"/>
<rect x="613" y="18" width="3" height="1" fill="#a6a6a6" class="cr"/>
<rect x="620" y="0" width="24" height="20" fill="url(#chk)" class="cr"/>
<rect x="619" y="0" width="1" height="20" fill="#8a8a8a" class="cr"/>
<rect x="620" y="20" width="25" height="1" fill="#fff" class="cr"/>
<rect x="644" y="0" width="1" height="21" fill="#fff" class="cr"/>
<path d="M627 2.8v11.6l2.8-2.6 2.6 5 1.9-1-2.5-4.8 3.6-0.4z" fill="#505050"/>
<path d="M652 10.5h6.3M660.7 10.5h6.3M659.5 3v6.3M659.5 11.7v6.3" stroke="#505050" stroke-width="1.1"/>
<rect x="676" y="0" width="1" height="20" fill="#a0a0a0" class="cr"/>
<rect x="677" y="0" width="1" height="20" fill="#fbfbfb" class="cr"/>
<rect x="693" y="4" width="1" height="13" fill="#505050" class="cr"/>
<rect x="716" y="10" width="12" height="1" fill="#505050" class="cr"/>
<path d="M743.6 17L756 5" stroke="#505050" stroke-width="1.2"/>
<path d="M769.6 11.5L777.8 3.9M774.9 16.7L784.1 8.2" stroke="#484848" stroke-width="1.1"/>
<path d="M772.4 9.4v7.4M775.6 8v5.6M778.6 6.2v5.8M781.5 2v7" stroke="#404040" stroke-width="1.4"/>
<path d="M770.8 14.8h3M774.2 11.8h2.8M777.2 9.6h2.8M780.2 4.2h2.8M780 7.9h3" stroke="#404040" stroke-width="0.9"/>
<text x="780.8" y="18.8" font-size="6.9" font-weight="bold" fill="#262626" stroke="#262626" style="stroke-width:0.3px">E</text>
<path d="M799 3.5H812" stroke="#484848" stroke-width="1" stroke-dasharray="1 1" class="cr"/>
<path d="M799 6.5H812" stroke="#484848" stroke-width="1" stroke-dasharray="1 1" class="cr"/>
<path d="M799 10.5H812" stroke="#484848" stroke-width="1" stroke-dasharray="1 1" class="cr"/>
<path d="M799 14.5H808" stroke="#484848" stroke-width="1" stroke-dasharray="1 1" class="cr"/>
<text x="808.8" y="18.8" font-size="6.9" font-weight="bold" fill="#262626" stroke="#262626" style="stroke-width:0.3px">F</text>
<text x="829.4" y="15" font-size="12" fill="#505050" stroke="#505050" style="stroke-width:0.4px">A</text>
<path d="M856 4.5H868M856 16.5H868M856.5 6V16M867.5 6V16" fill="none" stroke="#484848" stroke-width="1" stroke-dasharray="1 1" class="cr"/>
<rect x="855" y="3" width="2" height="1" fill="#484848" class="cr"/>
<path d="M858.2 7.5h7.8" stroke="#505050" stroke-width="1.1" fill="none"/>
<path d="M862 7.5v7.2" stroke="#505050" stroke-width="1.7" fill="none"/>
<path d="M886.5 4l3.5 3.6h-1.8v1.1h-3.4v-1.1h-1.8zM893.5 16.9l3.5-3.6h-1.8v-1.1h-3.4v1.1h-1.8z" fill="#505050"/>
<path d="M885.1 11.3l2.3 2.4 4.4-5.4" stroke="#484848" stroke-width="1.2" fill="none"/>
<path d="M903.8 9h5.6l-2.8 3.2z" fill="#000"/>
<rect x="915" y="0" width="1" height="22" fill="#a0a0a0" class="cr"/>
<rect x="916" y="0" width="1" height="22" fill="#fbfbfb" class="cr"/>
<rect x="919" y="0" width="3" height="1" fill="#a6a6a6" class="cr"/>
<rect x="919" y="2" width="3" height="1" fill="#a6a6a6" class="cr"/>
<rect x="919" y="4" width="3" height="1" fill="#a6a6a6" class="cr"/>
<rect x="919" y="6" width="3" height="1" fill="#a6a6a6" class="cr"/>
<rect x="919" y="8" width="3" height="1" fill="#a6a6a6" class="cr"/>
<rect x="919" y="10" width="3" height="1" fill="#a6a6a6" class="cr"/>
<rect x="919" y="12" width="3" height="1" fill="#a6a6a6" class="cr"/>
<rect x="919" y="14" width="3" height="1" fill="#a6a6a6" class="cr"/>
<rect x="919" y="16" width="3" height="1" fill="#a6a6a6" class="cr"/>
<rect x="919" y="18" width="3" height="1" fill="#a6a6a6" class="cr"/>
<rect x="1066" y="0" width="24" height="20" fill="url(#chk)" class="cr"/>
<rect x="1065" y="0" width="1" height="20" fill="#8a8a8a" class="cr"/>
<rect x="1066" y="20" width="25" height="1" fill="#fff" class="cr"/>
<rect x="1090" y="0" width="1" height="21" fill="#fff" class="cr"/>
<text x="930.6" y="14" font-size="9.5" fill="#333" stroke="#333" textLength="12.6" lengthAdjust="spacing" style="stroke-width:0.15px">M1</text>
<text x="958.6" y="14" font-size="9.5" fill="#333" stroke="#333" textLength="12.6" lengthAdjust="spacing" style="stroke-width:0.15px">M5</text>
<text x="984.2" y="14" font-size="9.5" fill="#333" stroke="#333" textLength="18" lengthAdjust="spacing" style="stroke-width:0.15px">M15</text>
<text x="1012.6" y="14" font-size="9.5" fill="#333" stroke="#333" textLength="17.6" lengthAdjust="spacing" style="stroke-width:0.15px">M30</text>
<text x="1043.6" y="14" font-size="9.5" fill="#333" stroke="#333" textLength="11.8" lengthAdjust="spacing" style="stroke-width:0.15px">H1</text>
<text x="1070.6" y="14" font-size="9.5" fill="#333" stroke="#333" textLength="12" lengthAdjust="spacing" style="stroke-width:0.15px">H4</text>
<text x="1099.5" y="14" font-size="9.5" fill="#333" stroke="#333" textLength="11.6" lengthAdjust="spacing" style="stroke-width:0.15px">D1</text>
<text x="1127" y="14" font-size="9.5" fill="#333" stroke="#333" textLength="14" lengthAdjust="spacing" style="stroke-width:0.15px">W1</text>
<text x="1153.5" y="14" font-size="9.5" fill="#333" stroke="#333" textLength="14.2" lengthAdjust="spacing" style="stroke-width:0.15px">MN</text>
<rect x="1176" y="0" width="1" height="22" fill="#a0a0a0" class="cr"/>
<rect x="1177" y="0" width="1" height="22" fill="#fbfbfb" class="cr"/>
<path d="M1645 9.5l-5 5.2" stroke="#2c5cc0" stroke-width="2.2" stroke-linecap="round"/>
<circle cx="1646.8" cy="7.2" r="3.5" fill="#f4f8ff" stroke="#2c5cc0" stroke-width="1.5"/>
<path d="M1663.5 12c0-6.5 11-6.5 11 0c0 3.8-4 4.2-6.4 4.2l-1.8 2.4v-2.6c-1.6-0.6-2.8-1.8-2.8-4z" fill="#f0f0f6" stroke="#a8a8a8" stroke-width="0.9"/>
<circle cx="1677.4" cy="7.3" r="8.3" fill="url(#gRed)"/>
<text x="1673.2" y="12" font-size="13.5" font-family="'Liberation Serif', serif" font-weight="bold" fill="#fff" style="stroke-width:0">1</text>
</g>
</svg>
</body></html>
